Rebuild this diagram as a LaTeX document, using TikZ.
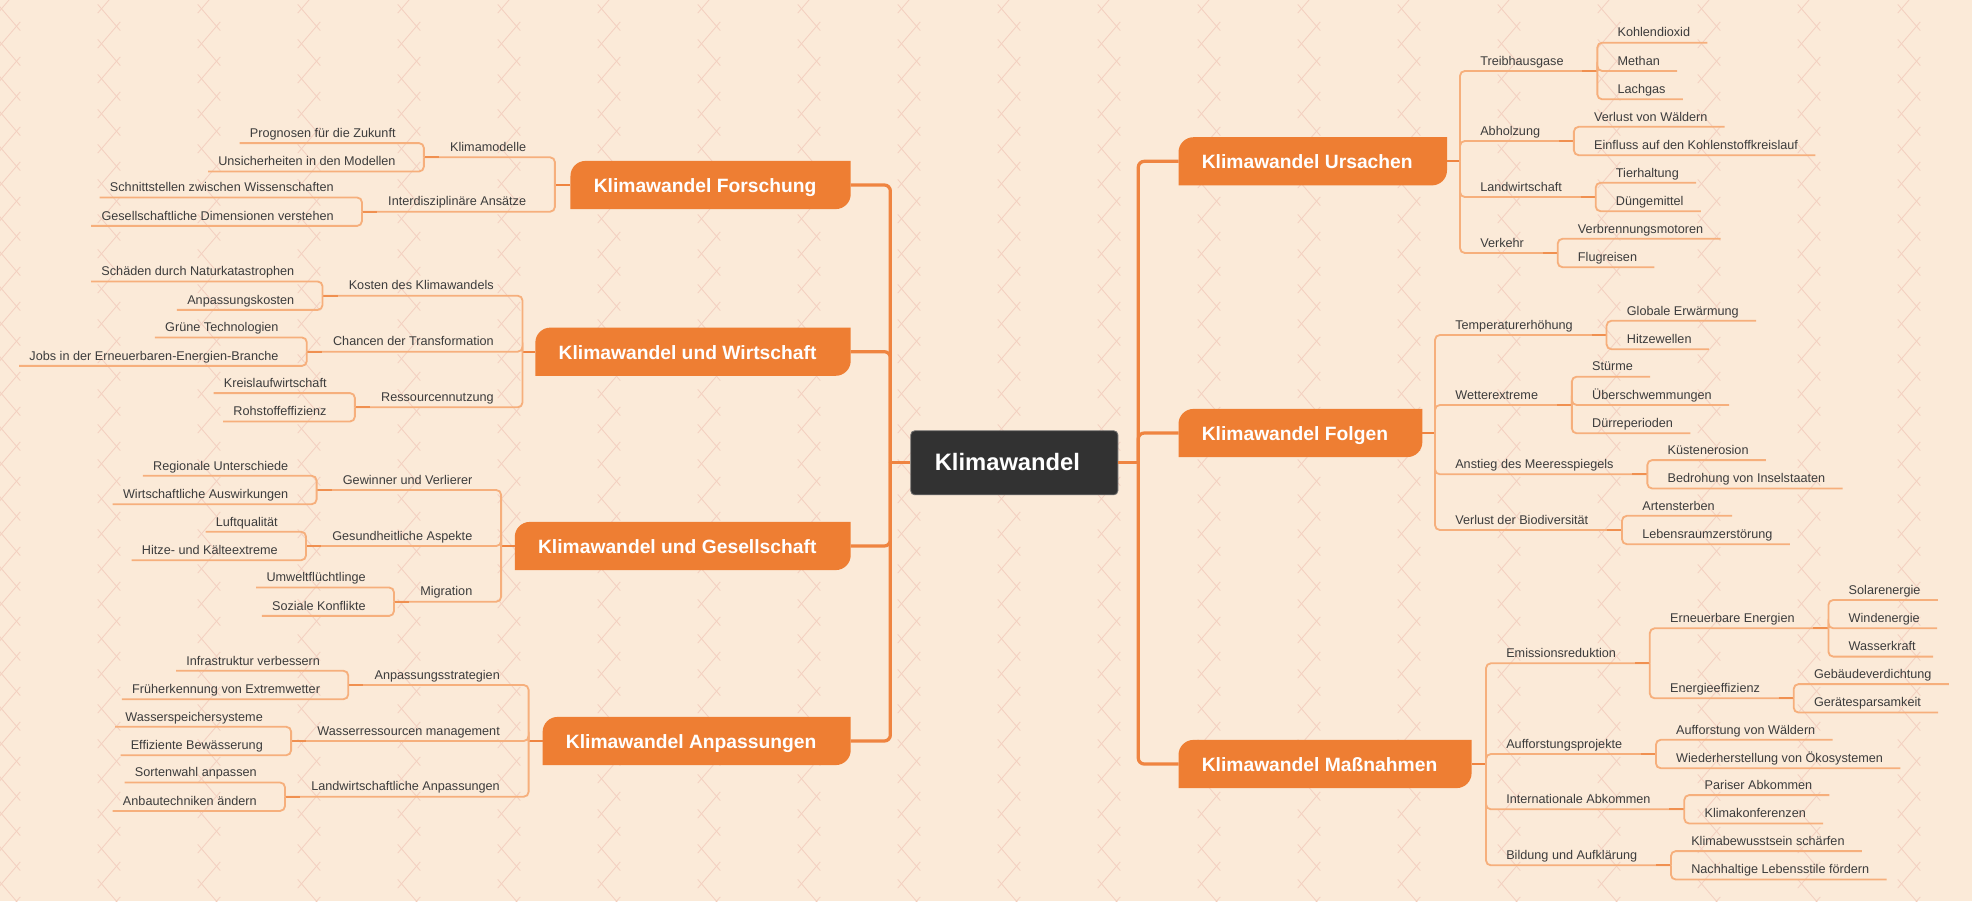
\documentclass[tikz,border=0pt]{standalone}
\usepackage{fontspec}
\setmainfont{Liberation Sans}
\usetikzlibrary{positioning,backgrounds}

\definecolor{bgpeach}{HTML}{FBEAD8}
\definecolor{patpink}{HTML}{F3D0C0}
\definecolor{topicorange}{HTML}{EE7E33}
\definecolor{lineorange}{HTML}{EF8440}
\definecolor{sublight}{HTML}{F6AF7C}
\definecolor{subjoin}{HTML}{F09050}
\definecolor{centralgray}{HTML}{323232}
\definecolor{centralborder}{HTML}{6A6A6A}
\definecolor{textgray}{HTML}{3C3C3C}

\tikzset{
  central/.style={fill=centralgray, draw=centralborder, line width=0.6pt, rounded corners=0.1cm,
    text=white, font=\fontsize{16.9pt}{19pt}\selectfont\bfseries, text width=3.975cm, align=left,
    inner xsep=0.6cm, minimum height=1.6cm, text height=13pt, text depth=1.8pt},
  topic/.style={inner xsep=0pt, minimum height=1.19cm, text height=12pt, text depth=1.4pt,
    text=white, font=\fontsize{13.7pt}{16pt}\selectfont\bfseries},
  topicR/.style={topic, anchor=west},
  topicL/.style={topic, anchor=east},
  sub/.style={inner xsep=0pt, inner ysep=3.9pt, text depth=0pt, text=textgray,
    font=\fontsize{9pt}{11pt}\selectfont},
  subR/.style={sub, anchor=south west},
  subL/.style={sub, anchor=south east},
  leafR/.style={sub, anchor=south west},
  leafL/.style={sub, anchor=south east},
  mainline/.style={draw=lineorange, line width=2.3pt},
  branchline/.style={draw=lineorange, line width=1.4pt},
  subline/.style={draw=sublight, line width=1.3pt, rounded corners=0.12cm},
  joinline/.style={draw=subjoin, line width=1.3pt},
  patline/.style={draw=patpink, line width=0.6pt}
}

\begin{document}
\begin{tikzpicture}[x=0.025cm,y=-0.025cm]

%% Background
\useasboundingbox (0,0) rectangle (1972,901);
\begin{scope}[on background layer]
\fill[bgpeach] (0,0) rectangle (1972,901);
\clip (0,0) rectangle (1972,901);
\foreach \cx in {0,100,...,1900}
  \foreach \cy in {-35,0,...,910} {
    \draw[patline] ({\cx-2.25},{\cy+4.4}) -- ({\cx+20.25},{\cy+30.6});
    \draw[patline] ({\cx+20.25},{\cy+21.9}) -- ({\cx-2.25},{\cy+48.1});
  }
\end{scope}

%% Centre
\node[central] (klima) at (1014.3,462.8) {Klimawandel};

%% Main topics
\node[topicR] (ursachen) at (1201.5,161.3) {Klimawandel Ursachen};
\node[topicR] (folgen) at (1201.5,433) {Klimawandel Folgen};
\node[topicR] (massnahmen) at (1201.5,764) {Klimawandel Maßnahmen};
%
\node[topicL] (forschung) at (816.7,185) {Klimawandel Forschung};
\node[topicL] (wirtschaft) at (816.7,351.7) {Klimawandel und Wirtschaft};
\node[topicL] (gesellschaft) at (816.7,546) {Klimawandel und Gesellschaft};
\node[topicL] (anpassungen) at (816.7,741) {Klimawandel Anpassungen};

\begin{scope}[on background layer]
\foreach \t in {ursachen,folgen,massnahmen,forschung,wirtschaft,gesellschaft,anpassungen}
  \fill[topicorange] ([xshift=-0.575cm]\t.south west) -- ([xshift=-0.575cm,yshift=-0.375cm]\t.north west)
    arc[start angle=180,end angle=90,radius=0.375cm] -- ([xshift=0.85cm]\t.north east)
    -- ([xshift=0.85cm,yshift=0.375cm]\t.south east) arc[start angle=0,end angle=-90,radius=0.375cm] -- cycle;
\end{scope}

%% Main connectors
\draw[mainline] (klima.east) -- ++(0.5cm,0) coordinate (kr);
\draw[mainline] (klima.west) -- ++(-0.5cm,0) coordinate (kl);
\foreach \t in {ursachen,folgen,massnahmen}
  \draw[mainline, rounded corners=0.15cm] (kr) |- ([xshift=-0.575cm]\t.west);
\foreach \t in {forschung,wirtschaft,gesellschaft,anpassungen}
  \draw[mainline, rounded corners=0.15cm] (kl) |- ([xshift=0.85cm]\t.east);

%% Ursachen
\coordinate (urv) at (1460,161.3);
\draw[branchline] ([xshift=0.85cm]ursachen.east) -- (urv);
\node[subR] (ur1) at (1480,71) {Treibhausgase};
\node[subR] (ur2) at (1480,141) {Abholzung};
\node[subR] (ur3) at (1480,197) {Landwirtschaft};
\node[subR] (ur4) at (1480,253) {Verkehr};
\foreach \s in {ur1,ur2,ur3,ur4} {
  \coordinate (\s-v) at ([xshift=0.8375cm]\s.south east);
  \draw[subline] (urv) |- (\s-v);
  \draw[joinline] ([xshift=-0.375cm]\s-v) -- (\s-v);
}
\node[leafR, above right=0.7075cm and 0.5cm of ur1-v] (ur1a) {Kohlendioxid};
\node[leafR, above right=0cm and 0.5cm of ur1-v] (ur1b) {Methan};
\node[leafR, above right=-0.7075cm and 0.5cm of ur1-v] (ur1c) {Lachgas};
\node[leafR, above right=0.355cm and 0.5cm of ur2-v] (ur2a) {Verlust von Wäldern};
\node[leafR, above right=-0.355cm and 0.5cm of ur2-v] (ur2b) {Einfluss auf den Kohlenstoffkreislauf};
\node[leafR, above right=0.355cm and 0.5cm of ur3-v] (ur3a) {Tierhaltung};
\node[leafR, above right=-0.355cm and 0.5cm of ur3-v] (ur3b) {Düngemittel};
\node[leafR, above right=0.355cm and 0.5cm of ur4-v] (ur4a) {Verbrennungsmotoren};
\node[leafR, above right=-0.355cm and 0.5cm of ur4-v] (ur4b) {Flugreisen};
\foreach \l/\s in {ur1a/ur1,ur1b/ur1,ur1c/ur1,ur2a/ur2,ur2b/ur2,ur3a/ur3,ur3b/ur3,ur4a/ur4,ur4b/ur4}
  \draw[subline] (\s-v) |- ([xshift=0.425cm]\l.south east);

%% Folgen
\coordinate (fov) at (1435,433);
\draw[branchline] ([xshift=0.85cm]folgen.east) -- (fov);
\node[subR] (fo1) at (1455,335) {Temperaturerhöhung};
\node[subR] (fo2) at (1455,405) {Wetterextreme};
\node[subR] (fo3) at (1455,474.3) {Anstieg des Meeresspiegels};
\node[subR] (fo4) at (1455,530) {Verlust der Biodiversität};
\foreach \s in {fo1,fo2,fo3,fo4} {
  \coordinate (\s-v) at ([xshift=0.8375cm]\s.south east);
  \draw[subline] (fov) |- (\s-v);
  \draw[joinline] ([xshift=-0.375cm]\s-v) -- (\s-v);
}
\node[leafR, above right=0.355cm and 0.5cm of fo1-v] (fo1a) {Globale Erwärmung};
\node[leafR, above right=-0.355cm and 0.5cm of fo1-v] (fo1b) {Hitzewellen};
\node[leafR, above right=0.7075cm and 0.5cm of fo2-v] (fo2a) {Stürme};
\node[leafR, above right=0cm and 0.5cm of fo2-v] (fo2b) {Überschwemmungen};
\node[leafR, above right=-0.7075cm and 0.5cm of fo2-v] (fo2c) {Dürreperioden};
\node[leafR, above right=0.355cm and 0.5cm of fo3-v] (fo3a) {Küstenerosion};
\node[leafR, above right=-0.355cm and 0.5cm of fo3-v] (fo3b) {Bedrohung von Inselstaaten};
\node[leafR, above right=0.355cm and 0.5cm of fo4-v] (fo4a) {Artensterben};
\node[leafR, above right=-0.355cm and 0.5cm of fo4-v] (fo4b) {Lebensraumzerstörung};
\foreach \l/\s in {fo1a/fo1,fo1b/fo1,fo2a/fo2,fo2b/fo2,fo2c/fo2,fo3a/fo3,fo3b/fo3,fo4a/fo4,fo4b/fo4}
  \draw[subline] (\s-v) |- ([xshift=0.425cm]\l.south east);

%% Massnahmen
\coordinate (mav) at (1486,764);
\draw[branchline] ([xshift=0.85cm]massnahmen.east) -- (mav);
\node[subR] (ma1) at (1506,663.3) {Emissionsreduktion};
\node[subR] (ma2) at (1506,754) {Aufforstungsprojekte};
\node[subR] (ma3) at (1506,809.3) {Internationale Abkommen};
\node[subR] (ma4) at (1506,865.3) {Bildung und Aufklärung};
\foreach \s in {ma1,ma2,ma3,ma4} {
  \coordinate (\s-v) at ([xshift=0.8375cm]\s.south east);
  \draw[subline] (mav) |- (\s-v);
  \draw[joinline] ([xshift=-0.375cm]\s-v) -- (\s-v);
}
\node[subR, above right=0.875cm and 0.5cm of ma1-v] (ma1a) {Erneuerbare Energien};
\node[subR, above right=-0.875cm and 0.5cm of ma1-v] (ma1b) {Energieeffizienz};
\foreach \s in {ma1a,ma1b} {
  \coordinate (\s-v) at ([xshift=0.8375cm]\s.south east);
  \draw[subline] (ma1-v) |- (\s-v);
  \draw[joinline] ([xshift=-0.375cm]\s-v) -- (\s-v);
}
\node[leafR, above right=0.7075cm and 0.5cm of ma1a-v] (ma1a1) {Solarenergie};
\node[leafR, above right=0cm and 0.5cm of ma1a-v] (ma1a2) {Windenergie};
\node[leafR, above right=-0.7075cm and 0.5cm of ma1a-v] (ma1a3) {Wasserkraft};
\node[leafR, above right=0.355cm and 0.5cm of ma1b-v] (ma1b1) {Gebäudeverdichtung};
\node[leafR, above right=-0.355cm and 0.5cm of ma1b-v] (ma1b2) {Gerätesparsamkeit};
\node[leafR, above right=0.355cm and 0.5cm of ma2-v] (ma2a) {Aufforstung von Wäldern};
\node[leafR, above right=-0.355cm and 0.5cm of ma2-v] (ma2b) {Wiederherstellung von Ökosystemen};
\node[leafR, above right=0.355cm and 0.5cm of ma3-v] (ma3a) {Pariser Abkommen};
\node[leafR, above right=-0.355cm and 0.5cm of ma3-v] (ma3b) {Klimakonferenzen};
\node[leafR, above right=0.355cm and 0.5cm of ma4-v] (ma4a) {Klimabewusstsein schärfen};
\node[leafR, above right=-0.355cm and 0.5cm of ma4-v] (ma4b) {Nachhaltige Lebensstile fördern};
\foreach \l/\s in {ma1a1/ma1a,ma1a2/ma1a,ma1a3/ma1a,ma1b1/ma1b,ma1b2/ma1b,ma2a/ma2,ma2b/ma2,ma3a/ma3,ma3b/ma3,ma4a/ma4,ma4b/ma4}
  \draw[subline] (\s-v) |- ([xshift=0.425cm]\l.south east);

%% Forschung
\coordinate (fsv) at (554.9,185);
\draw[branchline] ([xshift=-0.575cm]forschung.west) -- (fsv);
\node[subL] (fs1) at (526.4,157.3) {Klimamodelle};
\node[subL] (fs2) at (526.4,211.7) {Interdisziplinäre Ansätze};
\foreach \s in {fs1,fs2} {
  \coordinate (\s-v) at ([xshift=-0.65cm]\s.south west);
  \draw[subline] (fsv) |- (\s-v);
  \draw[joinline] (\s-v) -- ([xshift=0.375cm]\s-v);
}
\node[leafL, above left=0.355cm and 0.7cm of fs1-v] (fs1a) {Prognosen für die Zukunft};
\node[leafL, above left=-0.355cm and 0.7cm of fs1-v] (fs1b) {Unsicherheiten in den Modellen};
\node[leafL, above left=0.355cm and 0.7cm of fs2-v] (fs2a) {Schnittstellen zwischen Wissenschaften};
\node[leafL, above left=-0.355cm and 0.7cm of fs2-v] (fs2b) {Gesellschaftliche Dimensionen verstehen};
\foreach \l/\s in {fs1a/fs1,fs1b/fs1,fs2a/fs2,fs2b/fs2}
  \draw[subline] (\s-v) |- ([xshift=-0.25cm]\l.south west);

%% Wirtschaft
\coordinate (wiv) at (522.5,351.7);
\draw[branchline] ([xshift=-0.575cm]wirtschaft.west) -- (wiv);
\node[subL] (wi1) at (494,295.7) {Kosten des Klimawandels};
\node[subL] (wi2) at (494,351.7) {Chancen der Transformation};
\node[subL] (wi3) at (494,407.3) {Ressourcennutzung};
\foreach \s in {wi1,wi2,wi3} {
  \coordinate (\s-v) at ([xshift=-0.65cm]\s.south west);
  \draw[subline] (wiv) |- (\s-v);
  \draw[joinline] (\s-v) -- ([xshift=0.375cm]\s-v);
}
\node[leafL, above left=0.355cm and 0.7cm of wi1-v] (wi1a) {Schäden durch Naturkatastrophen};
\node[leafL, above left=-0.355cm and 0.7cm of wi1-v] (wi1b) {Anpassungskosten};
\node[leafL, above left=0.355cm and 0.7cm of wi2-v] (wi2a) {Grüne Technologien};
\node[leafL, above left=-0.355cm and 0.7cm of wi2-v] (wi2b) {Jobs in der Erneuerbaren-Energien-Branche};
\node[leafL, above left=0.355cm and 0.7cm of wi3-v] (wi3a) {Kreislaufwirtschaft};
\node[leafL, above left=-0.355cm and 0.7cm of wi3-v] (wi3b) {Rohstoffeffizienz};
\foreach \l/\s in {wi1a/wi1,wi1b/wi1,wi2a/wi2,wi2b/wi2,wi3a/wi3,wi3b/wi3}
  \draw[subline] (\s-v) |- ([xshift=-0.25cm]\l.south west);

%% Gesellschaft
\coordinate (gev) at (501.1,546);
\draw[branchline] ([xshift=-0.575cm]gesellschaft.west) -- (gev);
\node[subL] (ge1) at (472.6,490) {Gewinner und Verlierer};
\node[subL] (ge2) at (472.6,546) {Gesundheitliche Aspekte};
\node[subL] (ge3) at (472.6,601.7) {Migration};
\foreach \s in {ge1,ge2,ge3} {
  \coordinate (\s-v) at ([xshift=-0.65cm]\s.south west);
  \draw[subline] (gev) |- (\s-v);
  \draw[joinline] (\s-v) -- ([xshift=0.375cm]\s-v);
}
\node[leafL, above left=0.355cm and 0.7cm of ge1-v] (ge1a) {Regionale Unterschiede};
\node[leafL, above left=-0.355cm and 0.7cm of ge1-v] (ge1b) {Wirtschaftliche Auswirkungen};
\node[leafL, above left=0.355cm and 0.7cm of ge2-v] (ge2a) {Luftqualität};
\node[leafL, above left=-0.355cm and 0.7cm of ge2-v] (ge2b) {Hitze- und Kälteextreme};
\node[leafL, above left=0.355cm and 0.7cm of ge3-v] (ge3a) {Umweltflüchtlinge};
\node[leafL, above left=-0.355cm and 0.7cm of ge3-v] (ge3b) {Soziale Konflikte};
\foreach \l/\s in {ge1a/ge1,ge1b/ge1,ge2a/ge2,ge2b/ge2,ge3a/ge3,ge3b/ge3}
  \draw[subline] (\s-v) |- ([xshift=-0.25cm]\l.south west);

%% Anpassungen
\coordinate (anv) at (528.6,741);
\draw[branchline] ([xshift=-0.575cm]anpassungen.west) -- (anv);
\node[subL] (an1) at (500.1,685) {Anpassungsstrategien};
\node[subL] (an2) at (500.1,741) {Wasserressourcen management};
\node[subL] (an3) at (500.1,796.7) {Landwirtschaftliche Anpassungen};
\foreach \s in {an1,an2,an3} {
  \coordinate (\s-v) at ([xshift=-0.65cm]\s.south west);
  \draw[subline] (anv) |- (\s-v);
  \draw[joinline] (\s-v) -- ([xshift=0.375cm]\s-v);
}
\node[leafL, above left=0.355cm and 0.7cm of an1-v] (an1a) {Infrastruktur verbessern};
\node[leafL, above left=-0.355cm and 0.7cm of an1-v] (an1b) {Früherkennung von Extremwetter};
\node[leafL, above left=0.355cm and 0.7cm of an2-v] (an2a) {Wasserspeichersysteme};
\node[leafL, above left=-0.355cm and 0.7cm of an2-v] (an2b) {Effiziente Bewässerung};
\node[leafL, above left=0.355cm and 0.7cm of an3-v] (an3a) {Sortenwahl anpassen};
\node[leafL, above left=-0.355cm and 0.7cm of an3-v] (an3b) {Anbautechniken ändern};
\foreach \l/\s in {an1a/an1,an1b/an1,an2a/an2,an2b/an2,an3a/an3,an3b/an3}
  \draw[subline] (\s-v) |- ([xshift=-0.25cm]\l.south west);

\end{tikzpicture}
\end{document}
